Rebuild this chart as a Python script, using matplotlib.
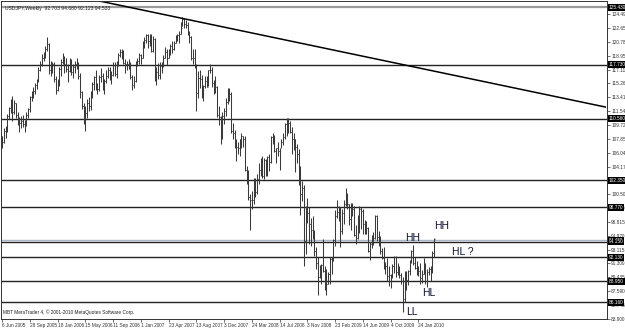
import matplotlib
matplotlib.use("Agg")
import matplotlib.pyplot as plt
import matplotlib.transforms as mtransforms

plt.rcParams['font.family'] = ['Liberation Sans', 'DejaVu Sans']

# weekly USDJPY bars, Jun 2005 - Mar 2010 (high / low / close)
high_2005 = [108.3, 109.3, 109.6, 111.2, 112.1, 113.2, 113.6, 113.0, 112.7, 111.4, 110.8, 110.9, 111.1,
             110.4, 111.4, 112.0, 113.6, 114.3, 114.8, 115.3, 115.9, 117.4, 118.2, 119.2, 119.4, 120.2,
             121.4, 120.6, 118.2, 118.1]
low_2005 = [106.7, 107.3, 108.0, 108.8, 110.5, 111.3, 110.2, 111.2, 110.7, 109.7, 108.8, 109.3, 109.5,
            108.8, 109.6, 110.7, 111.4, 112.9, 113.3, 113.8, 114.5, 115.5, 116.9, 117.6, 118.2, 118.7,
            119.6, 116.5, 116.3, 116.7]
close_2005 = [107.5, 108.9, 109.2, 110.9, 112.0, 112.3, 111.5, 112.6, 111.1, 110.4, 110.0, 110.3, 109.9,
              110.1, 111.0, 111.8, 113.4, 113.9, 114.3, 115.0, 115.6, 117.1, 117.9, 118.7, 119.3, 119.8,
              120.5, 117.0, 117.3, 117.8]

high_2006 = [118.1, 116.2, 115.8, 117.5, 118.5, 119.3, 118.9, 118.7, 117.8, 118.7, 118.5, 117.8, 118.3,
             118.7, 118.1, 116.7, 114.3, 112.6, 112.3, 113.2, 113.4, 114.2, 115.4, 116.3, 117.1,
             115.3, 116.4, 117.3, 116.7, 115.8, 117.0, 117.4, 117.5, 116.9, 118.1, 118.1, 118.3,
             119.3, 119.9, 119.8, 119.7, 118.5, 118.2, 118.5, 118.1, 116.4, 116.3, 118.2, 118.7, 119.3]
low_2006 = [115.4, 113.9, 114.2, 114.9, 116.3, 117.8, 116.6, 116.8, 115.5, 116.8, 116.4, 116.0, 116.6,
            117.2, 115.8, 113.3, 111.8, 109.9, 108.9, 110.7, 111.6, 111.7, 113.3, 114.4, 114.4,
            113.9, 114.2, 115.5, 114.4, 113.9, 115.3, 116.0, 115.7, 115.2, 116.3, 116.2, 116.0,
            117.6, 118.8, 118.5, 117.8, 116.6, 117.0, 117.2, 115.9, 114.4, 114.7, 115.5, 117.6, 117.8]
close_2006 = [115.9, 114.4, 115.2, 117.2, 118.1, 118.4, 117.9, 117.2, 116.9, 118.2, 116.8, 117.5, 117.8,
              117.9, 116.2, 114.1, 112.2, 110.5, 111.3, 112.6, 112.2, 113.8, 115.2, 116.1, 114.5,
              114.5, 116.1, 116.3, 114.7, 115.6, 116.2, 117.1, 115.8, 116.4, 117.7, 116.5, 118.1,
              119.0, 119.5, 118.8, 118.0, 117.9, 117.8, 117.9, 116.1, 115.1, 115.6, 118.0, 118.3, 119.0]

high_2007 = [119.2, 120.9, 121.5, 121.9, 121.8, 121.8, 121.8, 121.6, 121.3, 117.4, 118.0, 118.1, 118.1,
             119.0, 120.1, 119.8, 119.9, 120.5, 120.9, 120.9, 121.7, 121.8, 122.2, 123.5, 124.1, 123.9,
             123.7, 123.4, 122.3, 121.6, 119.8, 119.8, 117.9, 116.9, 117.0, 116.4, 115.0, 116.3, 116.2,
             117.1, 117.9, 117.4, 115.7, 116.3, 114.9, 112.3, 110.9, 111.5, 112.0, 113.3, 114.7, 114.7, 114.1]
low_2007 = [117.8, 118.6, 120.0, 120.6, 120.0, 120.3, 119.4, 119.4, 115.6, 115.1, 115.8, 115.8, 116.6,
            117.4, 118.6, 117.7, 118.6, 119.0, 119.3, 119.7, 120.7, 120.9, 120.7, 121.9, 122.9, 122.7,
            122.6, 121.7, 120.7, 118.4, 117.8, 117.3, 111.6, 113.3, 114.6, 113.3, 112.9, 114.6, 114.8,
            114.9, 116.6, 114.8, 113.8, 114.0, 110.8, 109.7, 107.2, 107.9, 109.8, 110.9, 112.5, 112.9, 108.6]
close_2007 = [118.6, 120.6, 121.0, 121.7, 120.9, 121.6, 119.6, 121.2, 116.2, 116.8, 116.4, 117.6, 117.7,
              118.7, 119.5, 118.7, 119.5, 120.3, 119.8, 120.7, 121.5, 121.7, 121.9, 122.7, 123.8, 123.2,
              123.1, 122.1, 121.4, 118.7, 118.6, 117.6, 114.0, 116.0, 115.9, 113.5, 114.9, 115.6, 114.8,
              117.0, 117.1, 115.3, 114.6, 114.8, 111.1, 110.8, 108.5, 110.9, 111.6, 112.8, 114.1, 113.8, 108.9]

high_2008 = [110.0, 109.0, 107.9, 107.5, 107.9, 108.6, 108.3, 108.3, 104.2, 103.7, 100.6, 101.0, 102.7,
             102.7, 103.2, 104.6, 105.3, 105.6, 105.3, 105.2, 105.6, 105.9, 108.2, 108.6, 108.4, 106.6,
             107.4, 106.7, 107.9, 108.6, 110.0, 110.7, 110.6, 110.2, 109.5, 108.6, 107.9, 107.2, 106.5,
             104.3, 102.3, 101.7, 98.9, 100.0, 98.8, 97.3, 97.6, 95.7, 93.5, 92.2, 91.1, 91.2]
low_2008 = [107.9, 106.6, 104.9, 105.8, 105.6, 106.6, 106.8, 103.6, 101.9, 99.8, 95.8, 98.6, 99.2,
            100.2, 100.6, 101.9, 103.0, 102.7, 102.6, 102.9, 103.0, 103.6, 104.7, 107.2, 106.1, 104.7,
            105.6, 103.8, 106.6, 107.1, 107.9, 108.2, 108.6, 108.6, 105.9, 106.4, 103.5, 104.6, 101.7,
            97.8, 99.6, 90.9, 92.5, 96.7, 93.9, 93.6, 94.6, 92.3, 90.6, 87.1, 89.4, 88.5]
close_2008 = [108.6, 106.9, 106.8, 106.6, 107.8, 108.2, 107.8, 103.8, 102.9, 100.2, 99.7, 99.8, 101.6,
              100.8, 102.6, 103.8, 105.2, 103.0, 105.0, 103.4, 105.5, 104.8, 108.1, 107.9, 106.2, 106.6,
              106.3, 106.9, 107.5, 108.1, 109.9, 110.5, 110.0, 108.8, 107.9, 107.8, 106.8, 105.9, 103.4,
              100.6, 101.4, 94.3, 98.5, 98.0, 96.5, 95.8, 95.5, 92.9, 91.3, 89.5, 90.4, 91.1]

high_2009 = [94.6, 90.9, 90.6, 90.2, 92.2, 92.2, 94.5, 98.4, 99.7, 99.0, 98.8, 98.5, 99.8,
             101.4, 100.7, 99.2, 99.4, 99.3, 98.9, 96.4, 97.8, 98.9, 98.8, 98.5, 97.1, 97.0,
             96.2, 94.2, 95.1, 95.5, 97.8, 97.8, 95.6, 95.0, 93.3, 93.5, 91.5, 92.0, 90.9,
             89.9, 91.2, 92.3, 92.3, 91.4, 90.9, 90.0, 89.5, 90.3, 90.3, 90.4, 91.7, 93.1]
low_2009 = [90.1, 87.8, 87.1, 88.5, 88.6, 89.9, 91.6, 93.6, 97.3, 96.9, 93.5, 95.2, 96.6,
            99.0, 98.6, 96.4, 95.7, 97.6, 94.9, 93.9, 94.6, 95.4, 95.9, 95.2, 95.2, 95.2,
            92.8, 91.7, 93.3, 93.8, 94.5, 94.3, 93.6, 92.6, 91.9, 90.6, 89.9, 88.9, 88.3,
            88.0, 89.3, 90.0, 89.5, 89.7, 89.3, 88.6, 84.8, 86.1, 87.8, 88.4, 89.8, 91.4]
close_2009 = [90.3, 90.1, 88.5, 89.9, 91.9, 91.8, 94.4, 97.6, 98.2, 98.2, 95.6, 98.0, 99.2,
              100.2, 99.2, 97.2, 98.6, 98.6, 95.1, 94.7, 95.3, 98.6, 98.3, 96.5, 95.3, 96.0,
              92.9, 93.9, 94.7, 94.7, 97.6, 94.8, 94.4, 93.0, 92.0, 90.7, 91.0, 89.6, 89.8,
              89.8, 90.9, 92.1, 90.1, 89.8, 89.7, 88.9, 86.5, 90.1, 89.1, 90.3, 91.5, 92.9]

high_2010 = [93.8, 92.1, 91.6, 90.9, 91.3, 90.4, 92.0, 91.4, 90.6, 90.8, 90.9, 92.9, 94.68]
low_2010 = [91.1, 90.5, 89.8, 89.6, 88.5, 88.7, 89.9, 88.6, 88.1, 89.8, 88.9, 90.0, 92.12]
close_2010 = [91.3, 90.7, 89.9, 90.3, 89.3, 89.9, 91.4, 89.0, 90.2, 90.5, 90.5, 92.7, 94.53]

first_open = 108.2

date_labels = ['6 Jun 2005', '28 Sep 2005', '18 Jan 2006', '15 May 2006', '11 Sep 2006', '1 Jan 2007',
               '23 Apr 2007', '13 Aug 2007', '3 Dec 2007', '24 Mar 2008', '14 Jul 2008', '3 Nov 2008',
               '23 Feb 2009', '14 Jun 2009', '4 Oct 2009', '24 Jan 2010']
label_every = 16

price_ticks = [83.900, 85.745, 87.590, 89.435, 91.300, 93.115, 94.970, 96.815, 98.660, 100.505,
               102.350, 104.170, 106.040, 107.850, 109.725, 111.540, 113.410, 115.265, 117.110,
               118.955, 120.780, 122.650, 124.495]

# horizontal levels drawn on the chart (with price tags on the scale)
levels = [125.430, 117.730, 110.560, 102.350, 98.770, 94.400, 94.150, 92.130, 88.950, 86.160]
level_colors = ['#9a9a9a', '#222222', '#222222', '#222222', '#222222', '#a8b8c8', '#222222',
                '#222222', '#222222', '#222222']

# trendline anchors (bar index, price)
trend_x = [53.4, 347.7]
trend_y = [126.36, 112.12]

# swing annotations (bar index, price, text)
notes = [(236.8, 94.68, 'HH'), (253.4, 96.28, 'HH'), (265.5, 92.82, 'HL ?'),
         (246.0, 87.36, 'HL'), (236.0, 84.87, 'LL')]

highs = high_2005 + high_2006 + high_2007 + high_2008 + high_2009 + high_2010
lows = low_2005 + low_2006 + low_2007 + low_2008 + low_2009 + low_2010
closes = close_2005 + close_2006 + close_2007 + close_2008 + close_2009 + close_2010
opens = [first_open] + closes[:-1]
idx = list(range(len(closes)))

fig = plt.figure(figsize=(6.25, 3.29), dpi=100)
ax = fig.add_axes([1 / 625, 10 / 329, 606 / 625, 318 / 329])

bar_col = '#3a3a3a'
ax.vlines(idx, lows, highs, color=bar_col, lw=0.75)
ax.hlines(opens, [i - 0.45 for i in idx], idx, color=bar_col, lw=0.6)
ax.hlines(closes, idx, [i + 0.45 for i in idx], color=bar_col, lw=0.6)

for lv, c in zip(levels, level_colors):
    ax.axhline(lv, color=c, lw=1.0 if lv != 125.430 else 1.6, zorder=1)

ax.plot(trend_x, trend_y, color='black', lw=1.1)

for x, y, t in notes:
    ax.text(x, y, t, fontsize=7.5, color='#101030', ha='center', va='center')

ax.set_xlim(-0.6, 348.7)
ax.set_ylim(83.9, 126.23)

ax.yaxis.tick_right()
ax.set_yticks(price_ticks)
ax.set_yticklabels(['%.3f' % v for v in price_ticks])
ax.tick_params(axis='y', direction='out', length=2, width=0.5, labelsize=3.4, pad=1, colors='#333333')

ax.set_xticks([i * label_every for i in range(len(date_labels))])
ax.set_xticklabels(date_labels)
for lbl in ax.get_xticklabels():
    lbl.set_ha('left')
ax.tick_params(axis='x', direction='out', length=2, width=0.5, labelsize=3.4, pad=1, colors='#333333')

for s in ax.spines.values():
    s.set_color('#333333')
    s.set_linewidth(0.7)

trans = mtransforms.blended_transform_factory(ax.transAxes, ax.transData)
for lv in levels:
    ax.text(1.003, lv, '%.3f' % lv, transform=trans, fontsize=3.4, color='white', ha='left',
            va='center', clip_on=False, zorder=5,
            bbox=dict(facecolor='black', edgecolor='none', pad=0.7))

ax.text(0.006, 0.985, 'USDJPY,Weekly  92.703 94.680 92.123 94.533', transform=ax.transAxes,
        fontsize=3.6, color='#222222', ha='left', va='top')
ax.text(0.004, 0.012, 'MBT MetaTrader 4, \u00a9 2001-2010 MetaQuotes Software Corp.', transform=ax.transAxes,
        fontsize=3.4, color='#222222', ha='left', va='bottom')

fig.savefig('out.png', dpi=100, facecolor='white')
